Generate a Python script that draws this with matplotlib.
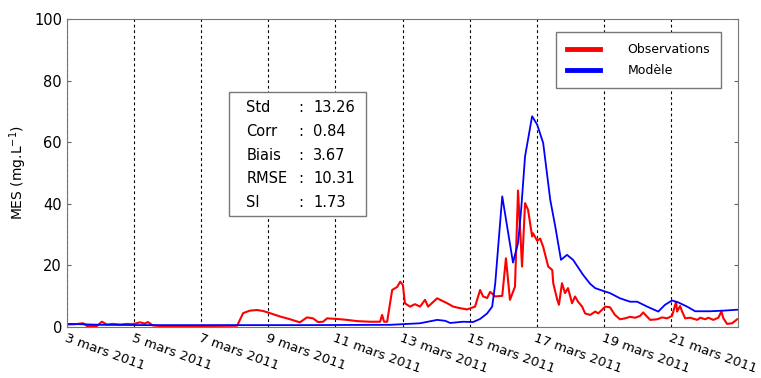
import numpy as np
import pandas as pd
import matplotlib
matplotlib.use('Agg')
import matplotlib.pyplot as plt
from matplotlib.patches import Rectangle

# Data (time in days since 3 mars 2011 00:00)
start = pd.Timestamp('2011-03-03')

obs_days = [0.00, 0.24, 0.48, 0.60, 0.89, 1.04, 1.19, 1.37, 1.58, 1.79, 1.94, 2.18,
            2.32, 2.41, 2.56, 2.77, 3.96, 5.07, 5.25, 5.45, 5.66, 5.84, 5.99, 6.35,
            6.65, 6.94, 7.15, 7.33, 7.48, 7.63, 7.75, 8.05, 8.35, 8.64, 9.03, 9.33,
            9.39, 9.45, 9.54, 9.69, 9.84, 9.93, 10.01, 10.07, 10.22, 10.37, 10.52, 10.67,
            10.76, 11.03, 11.18, 11.33, 11.51, 11.71, 11.92, 12.16, 12.31, 12.40, 12.52, 12.61,
            12.76, 12.97, 13.08, 13.20, 13.35, 13.44, 13.53, 13.56, 13.65, 13.74, 13.86, 13.89,
            14.01, 14.10, 14.19, 14.34, 14.46, 14.49, 14.61, 14.66, 14.75, 14.84, 14.93, 15.05,
            15.14, 15.23, 15.35, 15.44, 15.59, 15.74, 15.83, 16.04, 16.18, 16.33, 16.48, 16.63,
            16.78, 16.93, 17.08, 17.17, 17.29, 17.38, 17.59, 17.73, 17.88, 18.03, 18.15, 18.18,
            18.27, 18.33, 18.42, 18.57, 18.78, 18.87, 19.02, 19.11, 19.26, 19.41, 19.50, 19.56,
            19.67, 19.82, 19.97]
obs_mes = [0.8, 0.9, 1.2, 0.3, 0.3, 1.7, 0.8, 1.0, 0.8, 1.0, 0.9, 1.5,
           1.1, 1.6, 0.5, 0.3, 0.3, 0.4, 4.5, 5.3, 5.5, 5.2, 4.7, 3.4,
           2.5, 1.5, 3.1, 2.8, 1.6, 1.7, 2.8, 2.6, 2.3, 1.9, 1.7, 1.7,
           3.9, 1.7, 1.7, 12.0, 13.0, 14.7, 13.6, 7.7, 6.6, 7.4, 6.6, 8.8,
           6.6, 9.3, 8.5, 7.7, 6.6, 6.1, 5.7, 6.6, 12.0, 9.9, 9.4, 11.4,
           9.9, 10.1, 22.3, 8.8, 13.1, 44.3, 26.0, 19.6, 40.2, 38.0, 29.4, 30.4,
           28.0, 28.7, 26.0, 19.6, 18.5, 14.2, 8.8, 7.2, 14.2, 11.0, 12.6, 7.7,
           9.9, 8.2, 6.6, 4.4, 3.9, 5.0, 4.4, 6.6, 6.4, 3.9, 2.5, 2.8,
           3.3, 3.0, 3.6, 4.7, 3.3, 2.3, 2.5, 3.1, 2.8, 3.6, 8.2, 5.0,
           6.8, 5.0, 2.8, 3.0, 2.3, 3.0, 2.5, 3.0, 2.3, 3.0, 5.0, 2.8,
           1.0, 1.2, 2.5]

mod_days = [0.00, 0.39, 0.98, 2.47, 6.94, 9.63, 10.52, 11.03, 11.27, 11.42, 11.80, 12.10,
            12.31, 12.52, 12.67, 12.76, 12.97, 13.14, 13.29, 13.44, 13.53, 13.65, 13.86, 14.01,
            14.19, 14.40, 14.55, 14.72, 14.90, 15.08, 15.38, 15.59, 15.74, 15.98, 16.18, 16.48,
            16.78, 16.99, 17.29, 17.62, 17.82, 18.03, 18.21, 18.48, 18.72, 19.17, 19.56, 19.97]
mod_mes = [1.0, 0.9, 0.7, 0.6, 0.6, 0.7, 1.2, 2.3, 2.0, 1.3, 1.7, 1.6,
           2.6, 4.4, 6.6, 14.0, 42.4, 31.0, 20.9, 27.2, 37.6, 55.4, 68.4, 65.7,
           59.7, 41.3, 32.6, 21.8, 23.4, 21.8, 16.9, 14.0, 12.6, 11.7, 11.0, 9.3,
           8.2, 8.2, 6.6, 5.0, 7.2, 8.6, 8.0, 6.6, 5.1, 5.1, 5.3, 5.6]

tick_days = [0, 2, 4, 6, 8, 10, 12, 14, 16, 18]
tick_labels = ['3 mars 2011', '5 mars 2011', '7 mars 2011', '9 mars 2011', '11 mars 2011',
               '13 mars 2011', '15 mars 2011', '17 mars 2011', '19 mars 2011', '21 mars 2011']

stat_names = ['Std', 'Corr', 'Biais', 'RMSE', 'SI']
stat_values = ['13.26', '0.84', '3.67', '10.31', '1.73']


def to_dates(days):
    return start + pd.to_timedelta(np.array(days), unit='D')


fig = plt.figure(figsize=(7.61, 3.78), dpi=100)
ax = fig.add_axes([0.088, 0.135, 0.882, 0.815])

ax.plot(to_dates(obs_days), obs_mes, color='#ff0000', lw=1.5, label='Observations')
ax.plot(to_dates(mod_days), mod_mes, color='#0000ff', lw=1.3, label='Modèle')

ax.set_xlim(start, start + pd.Timedelta(days=20))
ax.set_ylim(0, 100)
ax.set_yticks([0, 20, 40, 60, 80, 100])

ticks = to_dates(tick_days)
ax.set_xticks(ticks)
ax.set_xticklabels(tick_labels, rotation=-20, ha='left', rotation_mode='anchor', fontsize=9.5)
ax.tick_params(axis='x', length=0, pad=3)
ax.tick_params(axis='y', direction='in', right=True, length=3, labelsize=10.5, color='#666666')
ax.grid(axis='x', color='black', linestyle=(0, (2.5, 2.5)), lw=0.8)
for sp in ax.spines.values():
    sp.set_color('#777777')

ax.set_ylabel(r'MES (mg.L$^{\mathregular{-1}}$)', fontsize=10)

# stats box
ax.add_patch(Rectangle((0.241, 0.360), 0.205, 0.403, transform=ax.transAxes,
                       facecolor='white', edgecolor='#777777', lw=1, zorder=5))
ys = [0.714, 0.636, 0.558, 0.481, 0.403]
for y, name, val in zip(ys, stat_names, stat_values):
    ax.text(0.267, y, name, transform=ax.transAxes, va='center', fontsize=10.5, zorder=6)
    ax.text(0.345, y, ':', transform=ax.transAxes, va='center', fontsize=10.5, zorder=6)
    ax.text(0.367, y, val, transform=ax.transAxes, va='center', fontsize=10.5, zorder=6)

leg = ax.legend(loc='upper right', bbox_to_anchor=(0.984, 0.977), fontsize=9,
                handlelength=2.6, handletextpad=2.2, borderpad=0.9, labelspacing=0.6,
                fancybox=False, framealpha=1, edgecolor='#777777')
for line in leg.get_lines():
    line.set_linewidth(3.5)
leg.get_frame().set_linewidth(1)

fig.savefig('out.png', dpi=100)
